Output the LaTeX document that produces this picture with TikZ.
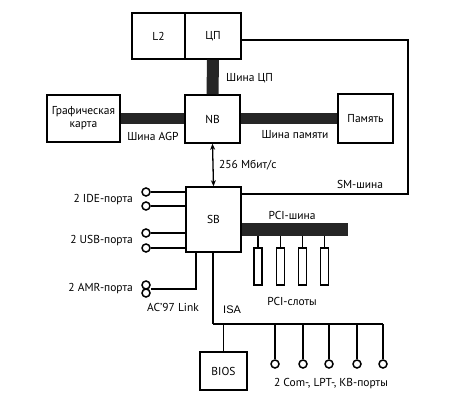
\documentclass[tikz,border=0pt]{standalone}
\usepackage{fontspec}
\setmainfont{PT Sans}
\newfontfamily\isafont{Liberation Sans}
\usetikzlibrary{arrows.meta}
\begin{document}
\begin{tikzpicture}[x=1pt,y=-1pt,
  box/.style={draw,line width=1.6pt,inner sep=0pt,align=center,font=\fontsize{11.5}{13}\selectfont},
  slotbox/.style={draw,line width=1.4pt,inner sep=0pt,minimum width=8pt,minimum height=37pt},
  port/.style={draw,circle,line width=1.5pt,inner sep=0pt,minimum size=8pt},
  bus/.style={line width=#1,draw=black!85},
  wire/.style={line width=1.3pt},
  lbl/.style={font=\fontsize{11.5}{13}\selectfont,inner sep=0pt}]
\useasboundingbox (0,0) rectangle (466,417);
% boxes
\node[box,minimum width=53pt,minimum height=46pt] (l2) at (158.5,36) {L2};
\node[box,minimum width=56pt,minimum height=46pt] (cpu) at (213,36) {ЦП};
\node[box,minimum width=55pt,minimum height=48pt] (nb) at (212.5,119) {NB};
\node[box,minimum width=73pt,minimum height=47pt] (gfx) at (83.5,118.5) {Графическая\\карта};
\node[box,minimum width=55pt,minimum height=49pt] (mem) at (365.5,118.5) {Память};
\node[box,minimum width=55pt,minimum height=65pt] (sb) at (213.5,219.5) {SB};
\node[box,minimum width=47pt,minimum height=38pt] (bios) at (223.5,371) {BIOS};
% PCI slots
\node[slotbox] (s1) at (258,266.5) {};
\node[slotbox] (s2) at (280.5,266.5) {};
\node[slotbox] (s3) at (302.5,266.5) {};
\node[slotbox] (s4) at (324.5,266.5) {};
\coordinate (pciend) at (348,229.5);
\foreach \s in {s1,s2,s3,s4} \draw[wire] (\s.north) -- (\s |- pciend);
% buses
\draw[bus=12pt] (cpu.south) -- (nb.north);
\draw[bus=11pt] (gfx.east) -- (gfx.east -| nb.west);
\draw[bus=11pt] (mem.west) -- (mem.west -| nb.east);
\draw[bus=13pt] (pciend -| sb.east) -- (pciend);
% NB-SB link
\draw[wire,{Stealth[length=6pt,width=5pt]}-{Stealth[length=6pt,width=5pt]}] (nb.south) -- (sb.north);
% SM bus
\coordinate (sm1) at (408,40);
\coordinate (sm2) at (408,194);
\draw[wire] (sm1 -| cpu.east) -- (sm1) -- (sm2) -- (sm2 -| sb.east);
% ports on the left
\node[port] (ide1) at (146,192) {};
\node[port] (ide2) at (146,206) {};
\node[port] (usb1) at (146,233) {};
\node[port] (usb2) at (146,248) {};
\foreach \p in {ide1,ide2,usb1,usb2} \draw[wire] (\p.east) -- (\p.east -| sb.west);
\node[port] (amr1) at (146,285) {};
\node[port] (amr2) at (146,293) {};
\coordinate (amrc) at (196,289);
\draw[wire] (amrc -| amr1.east) -- (amrc) -- (amrc |- sb.south);
% ISA
\coordinate (isaL) at (213,324);
\coordinate (isaR) at (383,324);
\draw[wire] (isaL |- sb.south) -- (isaL);
\draw[line width=1.9pt] (isaL) -- (isaR);
\draw[wire] (bios.north) -- (bios.north |- isaL);
\node[port] (p1) at (275,364) {};
\node[port] (p2) at (303,364) {};
\node[port] (p3) at (329,364) {};
\node[port] (p4) at (357,364) {};
\node[port] (p5) at (383,364) {};
\foreach \p in {p1,p2,p3,p4,p5} \draw[wire] (\p.north) -- (\p |- isaL);
% labels
\node[lbl,anchor=west] (lcpu) at (226,78) {Шина ЦП};
\node[lbl] (lagp) at (153,136) {Шина AGP};
\node[lbl] (lmem) at (295,135) {Шина памяти};
\node[lbl,anchor=west] (lspd) at (219,165) {256 Мбит/с};
\node[lbl] (lsm) at (360,184) {SM-шина};
\node[lbl,anchor=east] (lide) at (133,200) {2 IDE-порта};
\node[lbl,anchor=east] (lusb) at (133,241) {2 USB-порта};
\node[lbl] (lpci) at (292,215) {PCI-шина};
\node[lbl,anchor=east] (lamr) at (133,289) {2 AMR-порта};
\node[lbl,anchor=west] (lac) at (147,307) {AC'97 Link};
\node[lbl] (lslots) at (292,301) {PCI-слоты};
\node[lbl,anchor=west,font=\isafont\fontsize{11}{12}\selectfont] (lisa) at (223,310) {ISA};
\node[lbl] (lports) at (331,384) {2 Com-, LPT-, KB-порты};
\end{tikzpicture}
\end{document}
